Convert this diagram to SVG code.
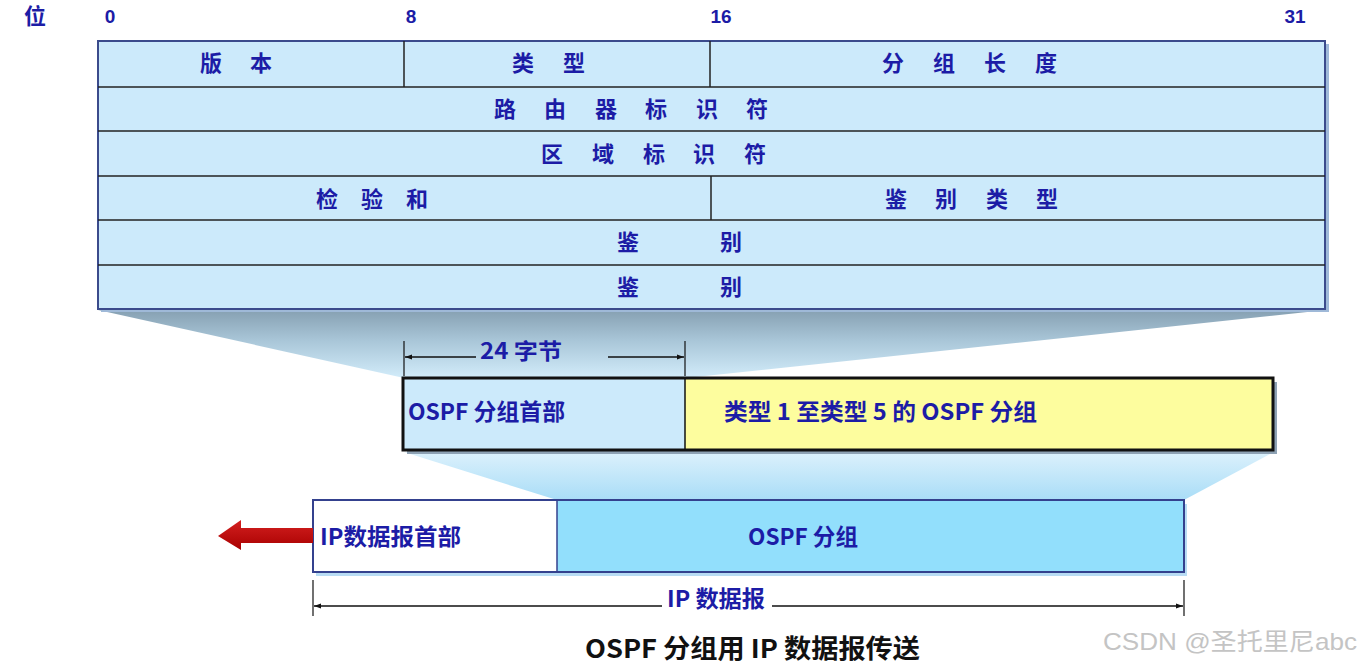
<svg xmlns="http://www.w3.org/2000/svg" width="1360" height="666" viewBox="0 0 1360 666">
<style>
.t{font-family:"Noto Sans CJK SC","Liberation Sans",sans-serif;font-weight:bold;fill:#1c1ca6;}
.cell{font-size:22px;text-anchor:middle;}
.bit{font-size:19px;text-anchor:middle;font-family:"Liberation Sans","Noto Sans CJK SC",sans-serif;}
.lbl{font-size:23px;}
.row{fill:none;stroke:#222;stroke-width:1.5;}
.dim{stroke:#111;stroke-width:1.3;fill:none;}
.tick{stroke:#111;stroke-width:1.2;}
</style>
<defs>
<linearGradient id="g1" x1="0" y1="0" x2="0" y2="1">
<stop offset="0" stop-color="#86a0b2"/>
<stop offset="0.45" stop-color="#a9c6d8"/>
<stop offset="1" stop-color="#d2ecfa"/>
</linearGradient>
<linearGradient id="g2" x1="0" y1="0" x2="0" y2="1">
<stop offset="0" stop-color="#dcf1fc"/>
<stop offset="1" stop-color="#a9ddf7"/>
</linearGradient>
<linearGradient id="gr" x1="0" y1="0" x2="0" y2="1">
<stop offset="0" stop-color="#d42020"/>
<stop offset="1" stop-color="#a80000"/>
</linearGradient>
<marker id="ah" viewBox="0 0 10 10" refX="10" refY="5" markerWidth="10" markerHeight="7" markerUnits="userSpaceOnUse" orient="auto-start-reverse">
<path d="M0,1.5 L10,5 L0,8.5 Z" fill="#111"/>
</marker>
</defs>

<g id="projections">
<polygon points="98,310 1326,310 686,378 404,378" fill="url(#g1)"/>
<polygon points="404,452 1274,452 1184,500 557,500" fill="url(#g2)"/>
</g>

<g id="bit-scale">
<text class="t" x="35" y="24" style="font-size:22px;text-anchor:middle">位</text>
<text class="t bit" x="110" y="23">0</text>
<text class="t bit" x="411" y="23">8</text>
<text class="t bit" x="721" y="23">16</text>
<text class="t bit" x="1295" y="23">31</text>
</g>

<g id="ospf-header-table">
<rect x="101" y="44" width="1228" height="268" fill="#9fb9d8"/>
<rect x="98" y="41" width="1227" height="268" fill="#cceafb" stroke="#3b4b8c" stroke-width="2"/>
<line class="row" x1="98" y1="87" x2="1325" y2="87"/>
<line class="row" x1="98" y1="131" x2="1325" y2="131"/>
<line class="row" x1="98" y1="176" x2="1325" y2="176"/>
<line class="row" x1="98" y1="220" x2="1325" y2="220"/>
<line class="row" x1="98" y1="265" x2="1325" y2="265"/>
<line class="row" x1="404" y1="41" x2="404" y2="87"/>
<line class="row" x1="710" y1="41" x2="710" y2="87"/>
<line class="row" x1="711" y1="176" x2="711" y2="220"/>
<text class="t cell" x="211 261" y="71">版本</text>
<text class="t cell" x="523 574" y="71">类型</text>
<text class="t cell" x="893 944 995 1046" y="71">分组长度</text>
<text class="t cell" x="505 555 606 656 707 757" y="117">路由器标识符</text>
<text class="t cell" x="552 603 654 704 755" y="162">区域标识符</text>
<text class="t cell" x="327 372 417" y="207">检验和</text>
<text class="t cell" x="896 946 997 1047" y="207">鉴别类型</text>
<text class="t cell" x="628 731" y="250">鉴别</text>
<text class="t cell" x="628 731" y="295">鉴别</text>
</g>

<g id="ospf-packet">
<rect x="407" y="382" width="870" height="72" fill="#8ea2b4"/>
<rect x="403" y="378" width="282" height="72" fill="#cceafb"/>
<rect x="685" y="378" width="588" height="72" fill="#fdfd9e"/>
<rect x="403" y="378" width="870" height="72" fill="none" stroke="#111" stroke-width="3"/>
<line x1="685" y1="378" x2="685" y2="450" stroke="#111" stroke-width="1.5"/>
<text class="t lbl" x="408" y="420" textLength="157" lengthAdjust="spacingAndGlyphs">OSPF 分组首部</text>
<text class="t lbl" x="724" y="420" textLength="313" lengthAdjust="spacingAndGlyphs">类型 1 至类型 5 的 OSPF 分组</text>
</g>

<g id="ip-datagram">
<rect x="316" y="504" width="871" height="72" fill="#b8dcf4"/>
<rect x="313" y="500" width="244" height="72" fill="#ffffff"/>
<rect x="557" y="500" width="627" height="72" fill="#92dffc"/>
<rect x="313" y="500" width="871" height="72" fill="none" stroke="#34418e" stroke-width="2"/>
<line x1="557" y1="500" x2="557" y2="572" stroke="#34418e" stroke-width="1.5"/>
<text class="t lbl" x="320" y="545" textLength="141" lengthAdjust="spacingAndGlyphs">IP数据报首部</text>
<text class="t lbl" x="803" y="545" text-anchor="middle" textLength="110" lengthAdjust="spacingAndGlyphs">OSPF 分组</text>
</g>

<g id="connectors">
<polygon points="218,536 241,520 241,528 313,528 313,543 241,543 241,550" fill="url(#gr)"/>
<line class="tick" x1="404" y1="341" x2="404" y2="376"/>
<line class="tick" x1="685" y1="341" x2="685" y2="376"/>
<line class="dim" x1="476" y1="357" x2="405" y2="357" marker-end="url(#ah)"/>
<line class="dim" x1="608" y1="357" x2="684" y2="357" marker-end="url(#ah)"/>
<line class="tick" x1="313" y1="580" x2="313" y2="616"/>
<line class="tick" x1="1184" y1="580" x2="1184" y2="616"/>
<line class="dim" x1="662" y1="606" x2="314" y2="606" marker-end="url(#ah)"/>
<line class="dim" x1="772" y1="606" x2="1183" y2="606" marker-end="url(#ah)"/>
</g>

<g id="dimension-labels">
<text class="t" x="521" y="359" style="font-size:22px;text-anchor:middle" textLength="82" lengthAdjust="spacingAndGlyphs">24 字节</text>
<text class="t" x="716" y="607" style="font-size:23px;text-anchor:middle" textLength="98" lengthAdjust="spacingAndGlyphs">IP 数据报</text>
</g>

<g id="caption">
<text class="t" x="585" y="658" style="font-size:26px;fill:#111" textLength="335" lengthAdjust="spacingAndGlyphs">OSPF 分组用 IP 数据报传送</text>
<text x="1103" y="650" style="font-family:'Liberation Sans','Noto Sans CJK SC',sans-serif;font-size:24px;fill:#c4c4c4" textLength="254" lengthAdjust="spacingAndGlyphs">CSDN @圣托里尼abc</text>
</g>
</svg>
